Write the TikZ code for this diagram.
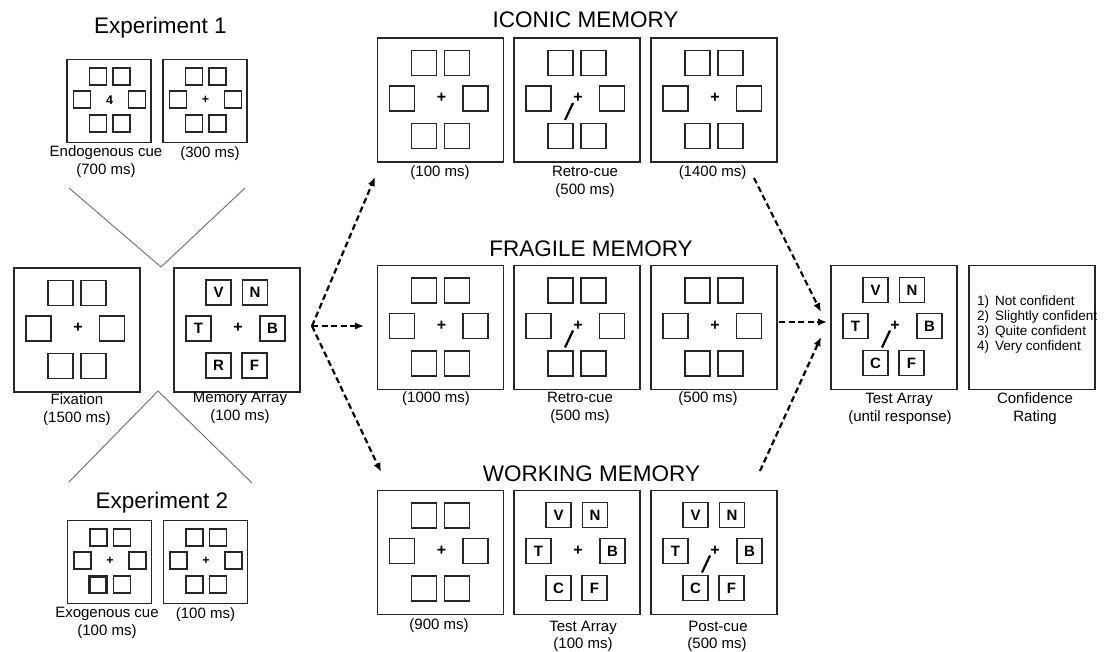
\documentclass[tikz,border=0pt]{standalone}
\usepackage{fontspec}
\setmainfont{Liberation Sans}
\usetikzlibrary{arrows.meta}
\definecolor{ink}{gray}{0.15}
\definecolor{vline}{gray}{0.42}
\tikzset{
  frame/.style={draw=ink, line width=1.3pt, minimum width=126pt, minimum height=124pt, inner sep=0pt, outer sep=0pt},
  sframe/.style={frame, minimum width=84pt, minimum height=83pt},
  cell/.style={draw=ink, line width=1.2pt},
  lcell/.style={draw=ink, line width=1.2pt, minimum size=25pt, inner sep=0pt, font=\fontsize{15}{15}\selectfont\bfseries},
  title/.style={font=\fontsize{22.5}{27}\selectfont, anchor=base, inner sep=0pt},
  lab/.style={font=\fontsize{15}{18}\selectfont, anchor=base, inner sep=0pt},
  conf/.style={font=\fontsize{13.5}{15}\selectfont, anchor=base west, inner sep=0pt},
  fix/.style={font=\fontsize{16}{16}\selectfont\bfseries, inner sep=0pt},
  sfix/.style={font=\fontsize{12.5}{12.5}\selectfont\bfseries, inner sep=0pt},
  flow/.style={line width=2.2pt, dash pattern=on 6pt off 3.5pt, -{Latex[length=9pt,width=7.5pt]}},
  branch/.style={draw=vline, line width=0.9pt},
  cueline/.style={line width=2.2pt}
}
\newcommand\bigcells[2]{%
  \foreach \dx/\dy in {-16.5/-37,16.5/-37,-38.5/-1.5,35/-1.5,-16.5/36,16.5/36}
    \draw[cell] ({#1+\dx-12.5},{#2+\dy-12.5}) rectangle ({#1+\dx+12.5},{#2+\dy+12.5});}
\newcommand\smallcells[2]{%
  \foreach \dx/\dy in {-11/-24.5,12.5/-24.5,-27/-1.5,28/-1.5,-11/22.5,12.5/22.5}
    \draw[cell] ({#1+\dx-8.5},{#2+\dy-8.5}) rectangle ({#1+\dx+8.5},{#2+\dy+8.5});}
\newcommand\lettercells[4]{%
  \node[lcell] (#1V) at ({#2-18.5},{#3-37.5}) {V};
  \node[lcell] (#1N) at ({#2+18},{#3-37.5}) {N};
  \node[lcell] (#1T) at ({#2-38.5},{#3-1.5}) {T};
  \node[lcell] (#1B) at ({#2+35.5},{#3-1.5}) {B};
  \node[lcell] (#1X) at ({#2-18.5},{#3+35.5}) {#4};
  \node[lcell] (#1F) at ({#2+17.5},{#3+35.5}) {F};}
\newcommand\cuebar[2]{\draw[cueline] ({#1-12},{#2+20}) -- ({#1-4},{#2+3});}

\begin{document}
\begin{tikzpicture}[x=1pt,y=-1pt]
\fill[white] (0,0) rectangle (1107,651);
\useasboundingbox (0,0) rectangle (1107,651);

% ---------- Experiment 1 ----------
\node[title] (t1) at (160.5,33) {Experiment 1};
\node[sframe] (e1a) at (109,101) {};
\smallcells{109}{101}
\node[sfix] (e1a4) at (109.5,100.5) {4};
\node[sframe] (e1b) at (205,101) {};
\smallcells{205}{101}
\node[sfix] (e1bp) at (205.5,100) {+};
\node[lab] (l1) at (106,156) {Endogenous cue};
\node[lab] (l2) at (106,174) {(700 ms)};
\node[lab] (l3) at (210,157) {(300 ms)};

% upper branch
\coordinate (ua) at (69,188);
\coordinate (ub) at (161,267);
\coordinate (uc) at (245,188);
\draw[branch] (ua) -- (ub) -- (uc);

% ---------- Fixation / Memory array ----------
\node[frame] (fixf) at (77,330) {};
\bigcells{77}{330}
\node[fix] (fixp) at (78,328) {+};
\node[lab] (l4) at (77,404) {Fixation};
\node[lab] (l5) at (77,422) {(1500 ms)};

\node[frame] (maf) at (237,330) {};
\lettercells{ma}{237}{330}{R}
\node[fix] (map) at (238,328) {+};
\node[lab] (l6) at (240,402) {Memory Array};
\node[lab] (l7) at (240,420) {(100 ms)};

% lower branch
\coordinate (la) at (69,482);
\coordinate (lb) at (158,391);
\coordinate (lc) at (252,483);
\draw[branch] (la) -- (lb) -- (lc);

% ---------- Experiment 2 ----------
\node[title] (t2) at (162,508) {Experiment 2};
\node[sframe] (e2a) at (109.5,562) {};
\smallcells{109.5}{562}
\draw[draw=ink, line width=2.6pt] (89.5,576.5) rectangle (106.5,593);
\node[sfix] (e2ap) at (110,561) {+};
\node[sframe] (e2b) at (205.5,562) {};
\smallcells{205.5}{562}
\node[sfix] (e2bp) at (206,561) {+};
\node[lab] (l8) at (107,617) {Exogenous cue};
\node[lab] (l9) at (107,635) {(100 ms)};
\node[lab] (l10) at (205.5,618) {(100 ms)};

% ---------- Iconic memory ----------
\node[title] (t3) at (585.5,27) {ICONIC MEMORY};
\node[frame] (i1) at (440.5,100) {};
\bigcells{440.5}{100}
\node[fix] (i1p) at (441.5,98) {+};
\node[frame] (i2) at (577,100) {};
\bigcells{577}{100}
\node[fix] (i2p) at (578,98) {+};
\cuebar{577}{100}
\node[frame] (i3) at (714,100) {};
\bigcells{714}{100}
\node[fix] (i3p) at (715,98) {+};
\node[lab] (l11) at (440,176) {(100 ms)};
\node[lab] (l12) at (585,176) {Retro-cue};
\node[lab] (l13) at (585,194) {(500 ms)};
\node[lab] (l14) at (712.5,176) {(1400 ms)};

% ---------- Fragile memory ----------
\node[title] (t4) at (591,256) {FRAGILE MEMORY};
\node[frame] (f1) at (440.5,327.5) {};
\bigcells{440.5}{327.5}
\node[fix] (f1p) at (441.5,325.5) {+};
\node[frame] (f2) at (577,327.5) {};
\bigcells{577}{327.5}
\node[fix] (f2p) at (578,325.5) {+};
\cuebar{577}{327.5}
\node[frame] (f3) at (714,327.5) {};
\bigcells{714}{327.5}
\node[fix] (f3p) at (715,325.5) {+};
\node[lab] (l15) at (436,402) {(1000 ms)};
\node[lab] (l16) at (580,402) {Retro-cue};
\node[lab] (l17) at (580,420) {(500 ms)};
\node[lab] (l18) at (708,402) {(500 ms)};

% ---------- Working memory ----------
\node[title] (t5) at (591.5,481) {WORKING MEMORY};
\node[frame] (w1) at (440.5,552.5) {};
\bigcells{440.5}{552.5}
\node[fix] (w1p) at (441.5,550.5) {+};
\node[frame] (w2) at (577,552.5) {};
\lettercells{wa}{577}{552.5}{C}
\node[fix] (w2p) at (578,550.5) {+};
\node[frame] (w3) at (714,552.5) {};
\lettercells{wb}{714}{552.5}{C}
\node[fix] (w3p) at (715,550.5) {+};
\cuebar{714}{552.5}
\node[lab] (l19) at (439,629) {(900 ms)};
\node[lab] (l20) at (583,631) {Test Array};
\node[lab] (l21) at (583,648) {(100 ms)};
\node[lab] (l22) at (718,631) {Post-cue};
\node[lab] (l23) at (717,648) {(500 ms)};

% ---------- Test array / confidence ----------
\node[frame] (ta) at (894,327.5) {};
\lettercells{ta}{894}{327.5}{C}
\node[fix] (tap) at (895,325.5) {+};
\cuebar{894}{327.5}
\node[lab] (l24) at (899,403) {Test Array};
\node[lab] (l25) at (900,421) {(until response)};

\node[frame] (cr) at (1032,327.5) {};
\node[conf] (c1n) at (977,305) {1)};
\node[conf] (c1t) at (995,305) {Not confident};
\node[conf] (c2n) at (977,320.3) {2)};
\node[conf] (c2t) at (995,320.3) {Slightly confident};
\node[conf] (c3n) at (977,335.6) {3)};
\node[conf] (c3t) at (995,335.6) {Quite confident};
\node[conf] (c4n) at (977,350.9) {4)};
\node[conf] (c4t) at (995,350.9) {Very confident};
\node[lab] (l26) at (1035,403) {Confidence};
\node[lab] (l27) at (1035,421) {Rating};

% ---------- flow arrows ----------
\coordinate (jl) at (312,326);
\coordinate (toI) at (375,177);
\coordinate (toF) at (364,326);
\coordinate (toW) at (381,472);
\draw[flow] (jl) -- (toI);
\draw[flow] (jl) -- (toF);
\draw[flow] (jl) -- (toW);

\coordinate (fromI) at (754,178);
\coordinate (fromF) at (779,322);
\coordinate (fromW) at (760,471);
\coordinate (inI) at (821,312);
\coordinate (inF) at (827,322);
\coordinate (inW) at (821,337);
\draw[flow] (fromI) -- (inI);
\draw[flow] (fromF) -- (inF);
\draw[flow] (fromW) -- (inW);
\end{tikzpicture}
\end{document}
